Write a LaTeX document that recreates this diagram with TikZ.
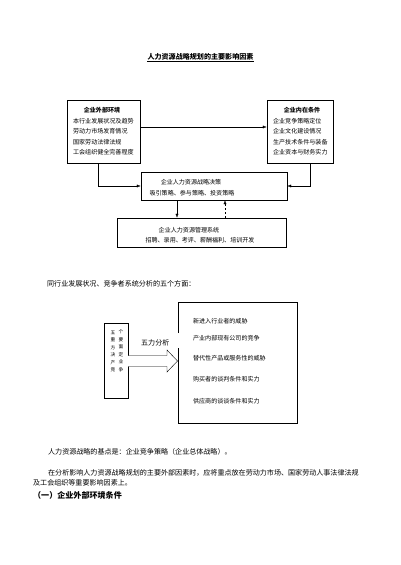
\documentclass[tikz,border=0pt]{standalone}
\usepackage{fontspec}
\setmainfont{Noto Sans CJK SC}
\usetikzlibrary{arrows.meta,fit}
\begin{document}
\begin{tikzpicture}[x=1.4875pt,y=-1.4875pt]
\tikzset{
 box/.style={draw, line width=0.6pt, inner sep=0pt},
 lbl/.style={inner sep=0pt, font=\fontsize{9}{10}\selectfont},
 body/.style={inner sep=0pt, anchor=west, font=\fontsize{10.5}{12}\selectfont},
 chr/.style={inner sep=0pt, font=\fontsize{7}{8}\selectfont},
 arr/.style={line width=0.6pt, -{Latex[length=6pt,width=4.5pt]}},
 ln/.style={line width=0.6pt},
}
\useasboundingbox[fill=white] (0,0) rectangle (400,565);

% title
\node[inner sep=0pt, font=\bfseries\fontsize{10.5}{12}\selectfont] (title) at (200.5,57) {人力资源战略规划的主要影响因素};
\draw[ln] ([yshift=-1.5pt]title.south west) -- ([yshift=-1.5pt]title.south east);

% boxes
\node[box, fit={(67,100) (140,163)}] (ext) {};
\node[box, fit={(267,100) (333,163)}] (int) {};
\node[box, fit={(141,172) (287,200)}] (mid) {};
\node[box, fit={(117,218) (286,247)}] (sys) {};

% external box text
\node[lbl, font=\bfseries\fontsize{9}{10}\selectfont] (e0) at (102,110) {企业外部环境};
\node[lbl, anchor=west] (e1) at (73,121) {本行业发展状况及趋势};
\node[lbl, anchor=west] (e2) at (73,131.5) {劳动力市场发育情况};
\node[lbl, anchor=west] (e3) at (73,142) {国家劳动法律法规};
\node[lbl, anchor=west] (e4) at (73,152) {工会组织健全完善程度};

% internal box text
\node[lbl, font=\bfseries\fontsize{9}{10}\selectfont] (i0) at (302,110) {企业内在条件};
\node[lbl, anchor=west] (i1) at (273,121) {企业竞争策略定位};
\node[lbl, anchor=west] (i2) at (273,131.5) {企业文化建设情况};
\node[lbl, anchor=west] (i3) at (273,142) {生产技术条件与装备};
\node[lbl, anchor=west] (i4) at (273,152) {企业资本与财务实力};

% middle and system text
\node[lbl] (m1) at (191,182) {企业人力资源战略决策};
\node[lbl] (m2) at (192,193) {吸引策略、参与策略、投资策略};
\node[lbl] (s1) at (189,230) {企业人力资源管理系统};
\node[lbl] (s2) at (200,240) {招聘、录用、考评、薪酬福利、培训开发};

% helper coordinates
\coordinate (y127) at (0,127);
\coordinate (x98) at (98,0);
\coordinate (x310) at (310,0);
\coordinate (x177) at (177,0);
\coordinate (x225) at (225,0);

% connectors
\draw[arr] (ext.east |- y127) -- (int.west |- y127);
\draw[arr] (ext.south -| x98) |- (mid.west);
\draw[arr] (int.south -| x310) |- (mid.east);
\draw[arr] (mid.south -| x177) -- (sys.north -| x177);
\draw[arr, dashed] (sys.north -| x225) -- (mid.south -| x225);

% text line
\node[body] (t1) at (47,284) {同行业发展状况、竞争者系统分析的五个方面：};

% five forces
\node[box, fit={(104,323) (128,398)}] (fb) {};
\foreach \a/\b [count=\i] in {五/个,重/要,方/面,决/定,产/业,竞/争}{
  \node[chr] (fl\i) at (113,325+7.5*\i) {\a};
  \node[chr] (fr\i) at (121,324.5+7.5*\i) {\b};
}
\node[inner sep=0pt, anchor=west, font=\fontsize{10.5}{12}\selectfont] (wl) at (141,343) {五力分析};
\draw[ln, fill=white] (128,355.5) -- (167,355.5) -- (167,350) -- (177.5,361) -- (167,372) -- (167,366.5) -- (128,366.5);

\node[inner sep=0pt, fit={(178,302) (297,423)}] (ff) {};
\coordinate (g1) at (0,333);
\coordinate (g2) at (0,348);
\draw[ln] (ff.west |- g1) -- (ff.north west) -- (ff.north east) -- (ff.south east) -- (ff.south west) -- (ff.west |- g2);
\node[lbl, anchor=west] (f1) at (193,321) {新进入行业者的威胁};
\node[lbl, anchor=west] (f2) at (193,338) {产业内部现有公司的竞争};
\node[lbl, anchor=west] (f3) at (193,358) {替代性产品或服务性的威胁};
\node[lbl, anchor=west] (f4) at (193,379) {购买者的谈判条件和实力};
\node[lbl, anchor=west] (f5) at (193,401) {供应商的谈谈条件和实力};

% bottom text
\node[body] (b1) at (48,452) {人力资源战略的基点是：企业竞争策略（企业总体战略）。};
\node[body] (b2) at (48,473) {在分析影响人力资源战略规划的主要外部因素时，应将重点放在劳动力市场、国家劳动人事法律法规};
\node[body] (b3) at (33,483) {及工会组织等重要影响因素上。};
\node[inner sep=0pt, anchor=west, font=\bfseries\fontsize{12}{14}\selectfont] (h1) at (33,495) {（一）企业外部环境条件};
\end{tikzpicture}
\end{document}
